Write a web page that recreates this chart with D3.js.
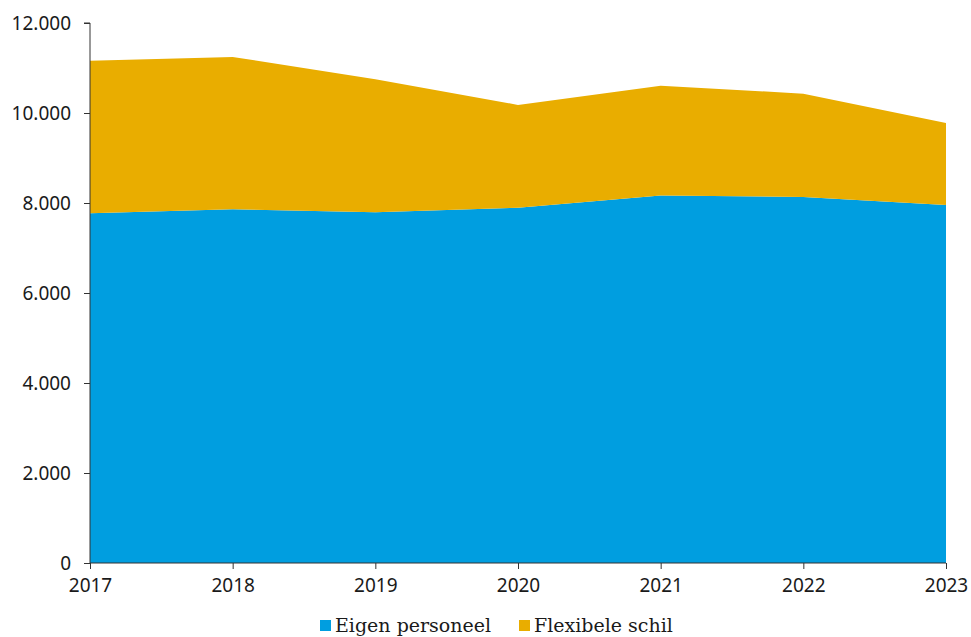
<!DOCTYPE html>
<html>
<head>
<meta charset="utf-8">
<script src="https://cdn.jsdelivr.net/npm/d3@7"></script>
<style>
  body { margin: 0; background: #fff; }
  svg { display: block; }
  .axis text { font-family: "Noto Sans", sans-serif; font-size: 19px; fill: #1a1a1a; }
  .axis path, .axis line { stroke: #333; }
  .legend text { font-family: "DejaVu Serif", serif; font-size: 19px; fill: #1a1a1a; }
</style>
</head>
<body>
<svg id="chart" width="971" height="637"></svg>
<script>
// data
const years = [2017, 2018, 2019, 2020, 2021, 2022, 2023];
const eigenPersoneel = [7770, 7860, 7795, 7895, 8165, 8135, 7955];
const flexibeleSchil = [3390, 3385, 2955, 2285, 2440, 2295, 1825];
const seriesNames = ["Eigen personeel", "Flexibele schil"];
const seriesColors = ["#009ee0", "#e9ad00"];
const yTicks = [0, 2000, 4000, 6000, 8000, 10000, 12000];

const svg = d3.select("#chart");
const margin = { left: 90, right: 25, top: 23, bottom: 74 };
const w = 971 - margin.left - margin.right;
const h = 637 - margin.top - margin.bottom;

const rows = years.map((y, i) => ({ year: y, eigen: eigenPersoneel[i], flex: flexibeleSchil[i] }));
const stack = d3.stack().keys(["eigen", "flex"]);
const layers = stack(rows);

const x = d3.scaleLinear().domain([years[0], years[years.length - 1]]).range([0, w]);
const y = d3.scaleLinear().domain([0, 12000]).range([h, 0]);

const g = svg.append("g").attr("transform", `translate(${margin.left},${margin.top})`);

const area = d3.area()
  .x(d => x(d.data.year))
  .y0(d => y(d[0]))
  .y1(d => y(d[1]));

g.selectAll("path.layer")
  .data(layers)
  .enter().append("path")
  .attr("class", "layer")
  .attr("fill", (d, i) => seriesColors[i])
  .attr("d", area);

// y axis
const fmt = d3.formatLocale({ decimal: ",", thousands: ".", grouping: [3], currency: ["€", ""] }).format(",");
g.append("g")
  .attr("class", "axis")
  .call(d3.axisLeft(y).tickValues(yTicks).tickFormat(fmt).tickSize(6).tickPadding(13))
  .call(a => a.select(".domain").attr("d", `M-6,${y(12000)}H0V${h}`));

// x axis
g.append("g")
  .attr("class", "axis")
  .attr("transform", `translate(0,${h})`)
  .call(d3.axisBottom(x).tickValues(years).tickFormat(d3.format("d")).tickSize(6).tickPadding(10))
  .call(a => a.select(".domain").attr("d", `M0,0H${w}`));

// legend
const legend = svg.append("g").attr("class", "legend").attr("transform", "translate(320,625)");
const legendX = [0, 199];
seriesNames.forEach((name, i) => {
  const item = legend.append("g").attr("transform", `translate(${legendX[i]},0)`);
  item.append("rect").attr("x", 0).attr("y", -5).attr("width", 11).attr("height", 11).attr("fill", seriesColors[i]);
  item.append("text").attr("x", 15).attr("y", 0).attr("dy", "0.35em").text(name);
});
</script>
</body>
</html>
